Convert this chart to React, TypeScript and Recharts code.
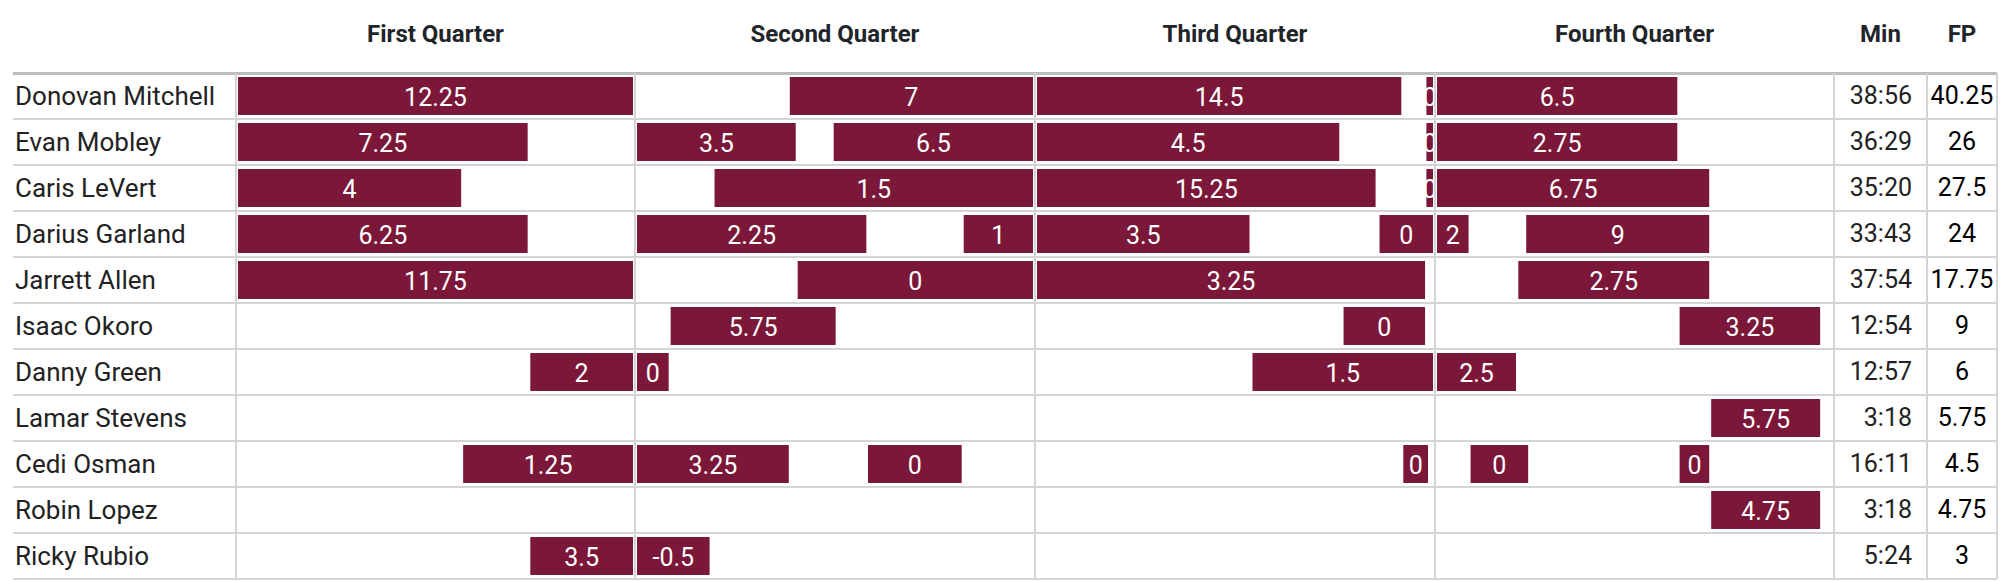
import React from 'react';
import { BarChart, Bar, XAxis, YAxis, LabelList } from 'recharts';

// player order, top to bottom
const players = [
  'Donovan Mitchell', 'Evan Mobley', 'Caris LeVert', 'Darius Garland', 'Jarrett Allen',
  'Isaac Okoro', 'Danny Green', 'Lamar Stevens', 'Cedi Osman', 'Robin Lopez', 'Ricky Rubio',
];
const minutes = ['38:56', '36:29', '35:20', '33:43', '37:54', '12:54', '12:57', '3:18', '16:11', '3:18', '5:24'];
const fantasyPoints = [40.25, 26, 27.5, 24, 17.75, 9, 6, 5.75, 4.5, 4.75, 3];
const quarterTitles = ['First Quarter', 'Second Quarter', 'Third Quarter', 'Fourth Quarter'];

// stints per player: [start minute, end minute, fantasy points]
const q1Stints = [
  [[0, 12, 12.25]],
  [[0, 8.8, 7.25]],
  [[0, 6.78, 4]],
  [[0, 8.8, 6.25]],
  [[0, 12, 11.75]],
  [],
  [[8.88, 12, 2]],
  [],
  [[6.84, 12, 1.25]],
  [],
  [[8.88, 12, 3.5]],
];
const q2Stints = [
  [[4.63, 12, 7]],
  [[0, 4.81, 3.5], [5.96, 12, 6.5]],
  [[2.35, 12, 1.5]],
  [[0, 6.95, 2.25], [9.9, 12, 1]],
  [[4.87, 12, 0]],
  [[1.02, 6.02, 5.75]],
  [[0, 0.96, 0]],
  [],
  [[0, 4.6, 3.25], [7.0, 9.84, 0]],
  [],
  [[0, 2.2, -0.5]],
];
const q3Stints = [
  [[0, 11.04, 14.5], [11.8, 12, 0]],
  [[0, 9.16, 4.5], [11.8, 12, 0]],
  [[0, 10.26, 15.25], [11.8, 12, 0]],
  [[0, 6.44, 3.5], [10.38, 12, 0]],
  [[0, 11.76, 3.25]],
  [[9.29, 11.76, 0]],
  [[6.53, 12, 1.5]],
  [],
  [[11.1, 11.85, 0]],
  [],
  [],
];
const q4Stints = [
  [[0, 7.3, 6.5]],
  [[0, 7.3, 2.75]],
  [[0, 8.27, 6.75]],
  [[0, 0.96, 2], [2.71, 8.27, 9]],
  [[2.47, 8.27, 2.75]],
  [[7.37, 11.64, 3.25]],
  [[0, 2.4, 2.5]],
  [[8.33, 11.64, 5.75]],
  [[1.02, 2.77, 0], [7.37, 8.27, 0]],
  [[8.33, 11.64, 4.75]],
  [],
];
const allStints = [q1Stints, q2Stints, q3Stints, q4Stints];

const MAROON = '#7b1738';
const GRID = '#d4d4d4';
const ROW_H = 46;
const TOP = 73;
const colX = [236, 635, 1035, 1435, 1834, 1927, 1997];
const FONT = 'Roboto, sans-serif';

// stacked gap/stint layout so each stint sits at its real time
function buildRows(stints: number[][][]) {
  return players.map((name, i) => {
    const a = stints[i][0];
    const b = stints[i][1];
    return {
      name,
      g1: a ? a[0] : 0,
      d1: a ? a[1] - a[0] : 0,
      p1: a ? a[2] : null,
      g2: b ? b[0] - a[1] : 0,
      d2: b ? b[1] - b[0] : 0,
      p2: b ? b[2] : null,
    };
  });
}

const renderLabel = (props: any) => {
  const { value } = props;
  if (value === null || value === undefined) return null;
  const vb = props.viewBox || {};
  const x = props.x ?? vb.x;
  const y = props.y ?? vb.y;
  const w = props.width ?? vb.width;
  const h = props.height ?? vb.height;
  return (
    <text
      x={x + w / 2}
      y={y + h / 2 + 1}
      fill="#fff"
      fontSize={25}
      fontFamily={FONT}
      textAnchor="middle"
      dominantBaseline="central"
    >
      {String(value)}
    </text>
  );
};

function QuarterChart({ stints, left, width }: { stints: number[][][]; left: number; width: number }) {
  const rows = buildRows(stints);
  return (
    <div style={{ position: 'absolute', left, top: TOP, width, height: ROW_H * players.length }}>
      <BarChart
        width={width}
        height={ROW_H * players.length}
        data={rows}
        layout="vertical"
        margin={{ top: 0, right: 1, bottom: 0, left: 1 }}
        barSize={38}
      >
        <XAxis type="number" domain={[0, 12]} allowDataOverflow hide />
        <YAxis type="category" dataKey="name" hide />
        <Bar dataKey="g1" stackId="s" fill="transparent" isAnimationActive={false} />
        <Bar dataKey="d1" stackId="s" fill={MAROON} isAnimationActive={false}>
          <LabelList dataKey="p1" content={renderLabel} />
        </Bar>
        <Bar dataKey="g2" stackId="s" fill="transparent" isAnimationActive={false} />
        <Bar dataKey="d2" stackId="s" fill={MAROON} isAnimationActive={false}>
          <LabelList dataKey="p2" content={renderLabel} />
        </Bar>
      </BarChart>
    </div>
  );
}

export default function App() {
  const tableH = ROW_H * players.length;
  return (
    <div
      style={{
        position: 'absolute',
        left: 0,
        top: 0,
        width: 2000,
        height: 582,
        overflow: 'hidden',
        background: '#fff',
        fontFamily: FONT,
        color: '#222',
      }}
    >
      {/* header */}
      {quarterTitles.map((t, i) => (
        <div
          key={t}
          style={{
            position: 'absolute',
            left: colX[i],
            width: colX[i + 1] - colX[i],
            top: 20,
            lineHeight: '28px',
            textAlign: 'center',
            fontSize: 24,
            fontWeight: 700,
            color: '#212529',
          }}
        >
          {t}
        </div>
      ))}
      {['Min', 'FP'].map((t, i) => (
        <div
          key={t}
          style={{
            position: 'absolute',
            left: colX[4 + i],
            width: colX[5 + i] - colX[4 + i],
            top: 20,
            lineHeight: '28px',
            textAlign: 'center',
            fontSize: 24,
            fontWeight: 700,
            color: '#212529',
          }}
        >
          {t}
        </div>
      ))}

      {/* horizontal row lines */}
      {Array.from({ length: players.length + 1 }).map((_, i) => (
        <div
          key={'h' + i}
          style={{
            position: 'absolute',
            left: 13,
            width: 1984,
            top: TOP + i * ROW_H - (i === 0 ? 1.5 : 1),
            height: i === 0 ? 3 : 2,
            background: i === 0 ? '#bdbdbd' : GRID,
          }}
        />
      ))}

      {/* vertical column lines */}
      {colX.map((x, i) => (
        <div
          key={'v' + i}
          style={{
            position: 'absolute',
            left: x - 1,
            width: 2,
            top: TOP,
            height: tableH,
            background: GRID,
          }}
        />
      ))}

      {/* names, minutes, fantasy points */}
      {players.map((p, i) => (
        <React.Fragment key={p}>
          <div
            style={{
              position: 'absolute',
              left: 15,
              top: TOP + i * ROW_H,
              lineHeight: ROW_H + 'px',
              fontSize: 26,
              color: '#222',
              whiteSpace: 'nowrap',
            }}
          >
            {p}
          </div>
          <div
            style={{
              position: 'absolute',
              left: colX[4],
              width: colX[5] - colX[4] - 15,
              top: TOP + i * ROW_H,
              lineHeight: ROW_H + 'px',
              fontSize: 25,
              textAlign: 'right',
              color: '#222',
            }}
          >
            {minutes[i]}
          </div>
          <div
            style={{
              position: 'absolute',
              left: colX[5],
              width: colX[6] - colX[5],
              top: TOP + i * ROW_H,
              lineHeight: ROW_H + 'px',
              fontSize: 25,
              textAlign: 'center',
              color: '#000',
            }}
          >
            {fantasyPoints[i]}
          </div>
        </React.Fragment>
      ))}

      {/* quarter stint charts */}
      {allStints.map((s, i) => (
        <QuarterChart key={i} stints={s} left={colX[i] + 1} width={colX[i + 1] - colX[i] - 2} />
      ))}
    </div>
  );
}
